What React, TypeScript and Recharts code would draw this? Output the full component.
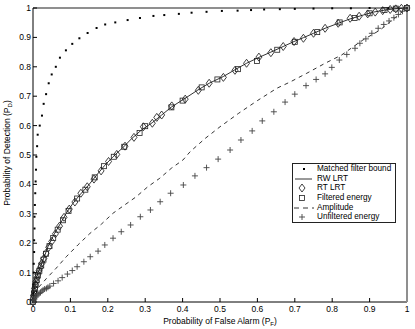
import { ScatterChart, Scatter, XAxis, YAxis, Legend } from 'recharts'

const font = '"Liberation Sans", Arial, Helvetica, sans-serif'

const ticks = [0, 0.1, 0.2, 0.3, 0.4, 0.5, 0.6, 0.7, 0.8, 0.9, 1]
const tickLabels = ['0', '0.1', '0.2', '0.3', '0.4', '0.5', '0.6', '0.7', '0.8', '0.9', '1']

const seriesNames = ['Matched filter bound', 'RW LRT', 'RT LRT', 'Filtered energy', 'Amplitude', 'Unfiltered energy']

// [Pf, Pd] pairs
const matchedFilter = [
  [0, 0], [0.001, 0.03], [0.001, 0.06], [0.002, 0.1], [0.002, 0.13], [0.003, 0.17], [0.003, 0.21],
  [0.004, 0.25], [0.004, 0.29], [0.005, 0.33], [0.006, 0.37], [0.007, 0.41], [0.008, 0.45], [0.009, 0.494],
  [0.011, 0.53], [0.0125, 0.569], [0.018, 0.6], [0.024, 0.634], [0.0285, 0.674], [0.035, 0.707],
  [0.042, 0.744], [0.05, 0.774], [0.061, 0.8], [0.072, 0.831], [0.088, 0.856], [0.105, 0.878],
  [0.124, 0.897], [0.146, 0.915], [0.17, 0.932], [0.193, 0.944], [0.22, 0.951], [0.253, 0.959],
  [0.286, 0.966], [0.322, 0.973], [0.351, 0.976], [0.39, 0.98], [0.424, 0.984], [0.464, 0.987],
  [0.505, 0.99], [0.547, 0.991], [0.583, 0.993], [0.618, 0.995], [0.66, 0.996], [0.7, 0.997],
  [0.75, 0.998], [0.8, 0.999], [0.85, 0.999], [0.9, 1], [0.95, 1], [1, 1],
]

const rwLrt = [
  [0, 0], [0.002, 0.03], [0.004, 0.052], [0.008, 0.075], [0.013, 0.098], [0.02, 0.12], [0.027, 0.143],
  [0.04, 0.188], [0.058, 0.234], [0.071, 0.262], [0.089, 0.302], [0.107, 0.336], [0.125, 0.364],
  [0.147, 0.395], [0.169, 0.43], [0.192, 0.465], [0.214, 0.494], [0.241, 0.526], [0.264, 0.556],
  [0.29, 0.585], [0.319, 0.61], [0.344, 0.636], [0.371, 0.664], [0.407, 0.693], [0.442, 0.722],
  [0.471, 0.744], [0.509, 0.767], [0.54, 0.79], [0.571, 0.812], [0.604, 0.832], [0.636, 0.85],
  [0.669, 0.869], [0.698, 0.886], [0.723, 0.899], [0.75, 0.914], [0.781, 0.931], [0.816, 0.948],
  [0.848, 0.963], [0.883, 0.976], [0.91, 0.986], [0.946, 0.994], [0.975, 0.998], [1, 1],
]

const rtLrt = [
  [0, 0], [0.001, 0.012], [0.002, 0.022], [0.003, 0.034], [0.004, 0.046], [0.006, 0.058], [0.008, 0.07],
  [0.01, 0.082], [0.013, 0.094], [0.016, 0.106], [0.02, 0.118], [0.024, 0.132], [0.029, 0.148],
  [0.035, 0.166], [0.042, 0.186], [0.05, 0.206], [0.06, 0.232], [0.071, 0.258], [0.083, 0.288],
  [0.097, 0.316], [0.112, 0.34], [0.128, 0.37], [0.145, 0.392], [0.163, 0.418], [0.182, 0.446],
  [0.202, 0.478], [0.224, 0.502], [0.246, 0.53], [0.27, 0.56], [0.295, 0.596], [0.319, 0.608],
  [0.331, 0.628], [0.344, 0.636], [0.371, 0.667], [0.407, 0.69], [0.442, 0.72], [0.471, 0.744],
  [0.509, 0.764], [0.54, 0.788], [0.571, 0.812], [0.604, 0.833], [0.636, 0.848], [0.669, 0.869],
  [0.698, 0.886], [0.723, 0.897], [0.75, 0.914], [0.781, 0.931], [0.816, 0.948], [0.848, 0.965],
  [0.872, 0.972], [0.895, 0.98], [0.915, 0.986], [0.935, 0.991], [0.955, 0.995], [0.97, 0.997],
  [0.985, 0.999], [1, 1],
]

const filteredEnergy = [
  [0, 0], [0.001, 0.016], [0.003, 0.03], [0.005, 0.044], [0.007, 0.058], [0.01, 0.074], [0.013, 0.09],
  [0.017, 0.106], [0.022, 0.124], [0.028, 0.144], [0.035, 0.164], [0.044, 0.19], [0.054, 0.218],
  [0.066, 0.246], [0.08, 0.278], [0.095, 0.31], [0.118, 0.352], [0.14, 0.382], [0.165, 0.424],
  [0.19, 0.462], [0.216, 0.494], [0.244, 0.528], [0.285, 0.575], [0.3, 0.598], [0.37, 0.662],
  [0.4, 0.685], [0.451, 0.73], [0.493, 0.757], [0.548, 0.792], [0.599, 0.82], [0.653, 0.858],
  [0.7, 0.885], [0.76, 0.918], [0.82, 0.951], [0.86, 0.966], [0.9, 0.982], [0.94, 0.993],
  [0.97, 0.998], [1, 1],
]

const amplitude = [
  [0, 0], [0.013, 0.047], [0.036, 0.08], [0.062, 0.115], [0.089, 0.154], [0.12, 0.194], [0.152, 0.233],
  [0.183, 0.265], [0.214, 0.302], [0.245, 0.33], [0.276, 0.358], [0.307, 0.392], [0.339, 0.421],
  [0.37, 0.455], [0.401, 0.483], [0.42, 0.511], [0.46, 0.556], [0.5, 0.596], [0.55, 0.642],
  [0.6, 0.685], [0.652, 0.727], [0.687, 0.748], [0.732, 0.778], [0.781, 0.812], [0.825, 0.84],
  [0.856, 0.868], [0.882, 0.891], [0.928, 0.925], [0.955, 0.953], [0.98, 0.98], [1, 1],
]

const unfilteredEnergy = [
  [0, 0], [0.002, 0.006], [0.004, 0.01], [0.007, 0.017], [0.01, 0.021], [0.013, 0.025], [0.016, 0.029],
  [0.02, 0.032], [0.024, 0.037], [0.027, 0.041], [0.031, 0.044], [0.036, 0.046], [0.04, 0.05],
  [0.045, 0.054], [0.055, 0.063], [0.067, 0.072], [0.078, 0.083], [0.092, 0.095], [0.105, 0.107],
  [0.118, 0.12], [0.136, 0.137], [0.153, 0.154], [0.174, 0.173], [0.192, 0.194], [0.214, 0.217],
  [0.236, 0.239], [0.261, 0.262], [0.287, 0.29], [0.314, 0.313], [0.34, 0.341], [0.368, 0.37],
  [0.402, 0.398], [0.433, 0.429], [0.464, 0.457], [0.495, 0.486], [0.527, 0.517], [0.556, 0.551],
  [0.586, 0.582], [0.613, 0.616], [0.644, 0.647], [0.674, 0.68], [0.7, 0.707], [0.73, 0.736],
  [0.757, 0.757], [0.781, 0.776], [0.799, 0.798], [0.819, 0.823], [0.839, 0.842], [0.861, 0.863],
  [0.874, 0.88], [0.89, 0.895], [0.906, 0.914], [0.923, 0.931], [0.938, 0.944], [0.952, 0.956],
  [0.965, 0.967], [0.977, 0.978], [0.988, 0.989], [1, 1],
]

const toPts = (arr: number[][]) => arr.map(([x, y]) => ({ x, y }))
const fmt = (v: number) => tickLabels[ticks.indexOf(v)] ?? String(v)

/* ---------- marker shapes ---------- */

const DotMark = (p: any) => <rect x={p.cx - 1} y={p.cy - 1} width={2} height={2} fill="#000" />
const NoMark = () => <g />
const DiamondMark = (p: any) => (
  <path
    d={`M${p.cx},${p.cy - 4}L${p.cx + 3},${p.cy}L${p.cx},${p.cy + 4}L${p.cx - 3},${p.cy}Z`}
    fill="none"
    stroke="#111"
    strokeWidth={0.8}
  />
)
const SquareMark = (p: any) => (
  <rect x={p.cx - 2.5} y={p.cy - 2.5} width={5} height={5} fill="none" stroke="#222" strokeWidth={0.8} />
)
const PlusMark = (p: any) => (
  <path d={`M${p.cx - 3},${p.cy}H${p.cx + 3}M${p.cx},${p.cy - 3}V${p.cy + 3}`} stroke="#444" strokeWidth={0.9} />
)

function LegendSymbol({ i }: { i: number }) {
  const c = 11
  const m = 5
  if (i === 0) return <rect x={c - 1} y={m - 1} width={2} height={2} fill="#000" />
  if (i === 1) return <line x1={2} x2={19} y1={m} y2={m} stroke="#000" strokeWidth={0.8} />
  if (i === 2) return <DiamondMark cx={c - 2} cy={m} />
  if (i === 3) return <SquareMark cx={c - 2} cy={m} />
  if (i === 4) return <line x1={1} x2={21} y1={m} y2={m} stroke="#000" strokeWidth={0.8} strokeDasharray="5 4" />
  return <PlusMark cx={c - 2} cy={m} />
}

function LegendBox() {
  return (
    <div
      style={{
        width: 104,
        height: 60,
        border: '1px solid #222',
        boxSizing: 'border-box',
        background: '#fff',
        fontFamily: font,
        fontSize: 8.2,
        color: '#000',
      }}
    >
      {seriesNames.map((n, i) => (
        <div key={n} style={{ display: 'flex', alignItems: 'center', height: 9.7 }}>
          <svg width={22} height={10} style={{ flexShrink: 0 }}>
            <LegendSymbol i={i} />
          </svg>
          <span style={{ marginLeft: 2, whiteSpace: 'nowrap', lineHeight: '9.7px' }}>{n}</span>
        </div>
      ))}
    </div>
  )
}

export default function App() {
  const tickStyle = { fontSize: 8.5, fill: '#000', fontFamily: font }
  return (
    <div style={{ position: 'absolute', left: 0, top: 0, width: 415, height: 329, background: '#fff' }}>
      <ScatterChart width={415} height={329} margin={{ top: 7, right: 7, bottom: 0, left: 0 }}>
        <XAxis
          dataKey="x"
          type="number"
          domain={[0, 1]}
          ticks={ticks}
          interval={0}
          tickFormatter={fmt}
          height={27}
          tickSize={-4}
          tickMargin={8}
          axisLine={{ stroke: '#000', strokeWidth: 1 }}
          tickLine={{ stroke: '#000' }}
          tick={tickStyle}
        />
        <XAxis
          xAxisId="top"
          orientation="top"
          type="number"
          domain={[0, 1]}
          allowDataOverflow
          ticks={ticks}
          interval={0}
          height={1}
          tickSize={-4}
          tick={false}
          axisLine={{ stroke: '#8f8f8f', strokeWidth: 2 }}
          tickLine={{ stroke: '#000' }}
        />
        <YAxis
          dataKey="y"
          type="number"
          domain={[0, 1]}
          ticks={ticks}
          interval={0}
          tickFormatter={fmt}
          width={33}
          tickSize={-4}
          tickMargin={6}
          axisLine={{ stroke: '#000', strokeWidth: 1 }}
          tickLine={{ stroke: '#000' }}
          tick={tickStyle}
        />
        <YAxis
          yAxisId="right"
          orientation="right"
          type="number"
          domain={[0, 1]}
          allowDataOverflow
          ticks={ticks}
          interval={0}
          width={1}
          tickSize={-4}
          tick={false}
          axisLine={{ stroke: '#8f8f8f', strokeWidth: 2 }}
          tickLine={{ stroke: '#000' }}
        />
        <Legend
          layout="vertical"
          align="center"
          verticalAlign="middle"
          content={() => <LegendBox />}
          wrapperStyle={{ left: 292, top: 163, width: 104 }}
        />
        <Scatter name={seriesNames[0]} data={toPts(matchedFilter)} shape={DotMark} isAnimationActive={false} />
        <Scatter
          name={seriesNames[1]}
          data={toPts(rwLrt)}
          shape={NoMark}
          line={{ stroke: '#000', strokeWidth: 0.8 }}
          isAnimationActive={false}
        />
        <Scatter name={seriesNames[2]} data={toPts(rtLrt)} shape={DiamondMark} isAnimationActive={false} />
        <Scatter name={seriesNames[3]} data={toPts(filteredEnergy)} shape={SquareMark} isAnimationActive={false} />
        <Scatter
          name={seriesNames[4]}
          data={toPts(amplitude)}
          shape={NoMark}
          line={{ stroke: '#000', strokeWidth: 0.8, strokeDasharray: '4 4' }}
          isAnimationActive={false}
        />
        <Scatter name={seriesNames[5]} data={toPts(unfilteredEnergy)} shape={PlusMark} isAnimationActive={false} />
      </ScatterChart>
      <svg
        width={415}
        height={329}
        style={{ position: 'absolute', left: 0, top: 0, pointerEvents: 'none' }}
        fontFamily={font}
        fontSize={8.5}
      >
        <text x={220} y={323.5} textAnchor="middle" fill="#000">
          Probability of False Alarm (P
          <tspan fontSize={6} dy={2}>F</tspan>
          <tspan dy={-2}>)</tspan>
        </text>
        <text transform="translate(10,153) rotate(-90)" textAnchor="middle" fill="#000">
          Probability of Detection (P
          <tspan fontSize={6} dy={2}>D</tspan>
          <tspan dy={-2}>)</tspan>
        </text>
      </svg>
    </div>
  )
}
